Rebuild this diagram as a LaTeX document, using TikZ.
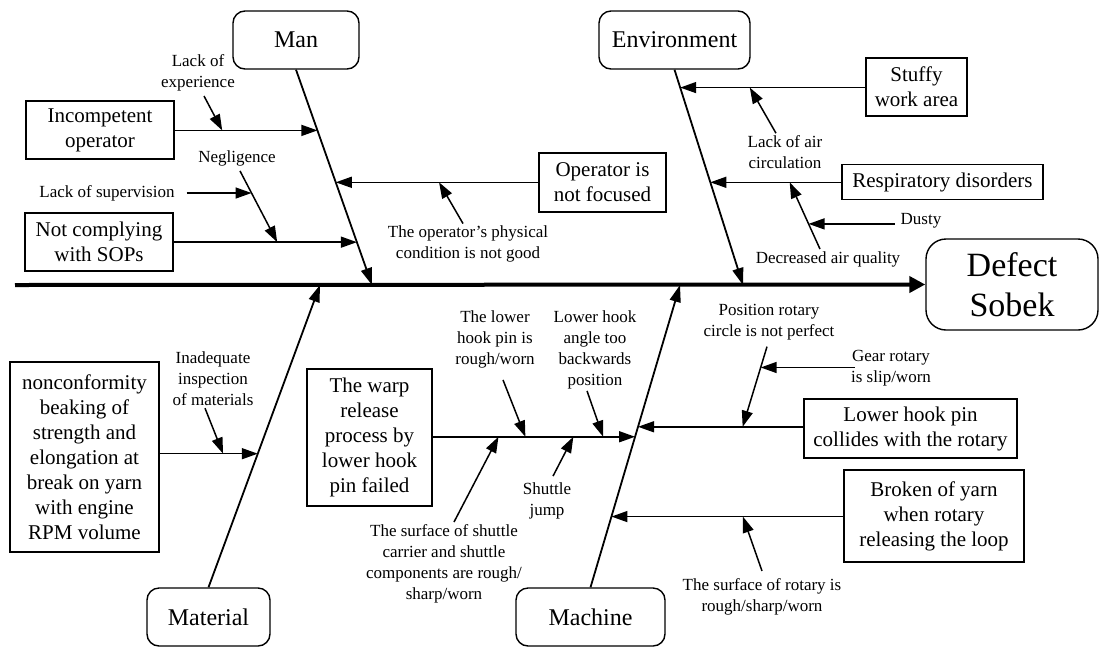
\documentclass[tikz,border=0pt]{standalone}
\usepackage{fontspec}
\setmainfont{Liberation Serif}
\usetikzlibrary{arrows.meta}

\begin{document}
\begin{tikzpicture}
  [x=1pt,y=-1pt,
   category/.style={draw,line width=1.4pt,rounded corners=12pt,minimum height=58pt,font=\fontsize{24}{28}\selectfont},
   factor/.style={draw,line width=1.4pt,align=center,inner sep=0pt,font=\fontsize{21}{25}\selectfont},
   note/.style={align=center,inner sep=2pt,font=\fontsize{17}{21}\selectfont},
   bone/.style={line width=1.8pt,-{Triangle[length=17pt,width=11pt]}},
   twig/.style={line width=1.5pt,-{Triangle[length=16pt,width=11pt]}}]
  \useasboundingbox (0,0) rectangle (1099,646);

  % head and spine
  \node[draw,line width=1.4pt,rounded corners=20pt,minimum width=172pt,minimum height=91pt,align=center,font=\fontsize{34}{40}\selectfont] (defect) at (1012,284.5) {Defect\\Sobek};
  \coordinate (tail) at (15,285);
  \draw[line width=4pt,-{Triangle[length=16pt,width=16pt]}] (tail) -- (defect.west);
  \coordinate (jman) at (372,285);
  \coordinate (jenv) at (743,285);
  \coordinate (jmat) at (320,285);
  \coordinate (jmac) at (680,285);

  % categories
  \node[category,minimum width=126pt] (man) at (296,40) {Man};
  \node[category,minimum width=151pt] (env) at (674.5,40) {Environment};
  \node[category,minimum width=123pt] (mat) at (208.5,617) {Material};
  \node[category,minimum width=149pt] (mac) at (590.5,617) {Machine};
  \draw[bone] (man.south) -- coordinate[pos=.282] (m1) coordinate[pos=.523] (m2) coordinate[pos=.801] (m3) (jman);
  \draw[bone] (env.south) -- coordinate[pos=.083] (e1) coordinate[pos=.523] (e2) (jenv);
  \draw[bone] (mat.north) -- coordinate[pos=.442] (t1) (jmat);
  \draw[bone] (mac.north) -- coordinate[pos=.234] (c3) coordinate[pos=.498] (c1) coordinate[pos=.531] (c2) (jmac);

  % man
  \node[factor,minimum width=148pt,minimum height=58pt] (incomp) at (100,130) {Incompetent\\operator};
  \node[factor,minimum width=148pt,minimum height=58pt] (sops) at (99,242) {Not complying\\with SOPs};
  \node[factor,minimum width=127pt,minimum height=59pt] (focus) at (602.5,182.5) {Operator is\\not focused};
  \draw[twig] (incomp.east |- m1) -- coordinate[pos=.333] (m1a) (m1);
  \draw[twig] (sops.east |- m3) -- coordinate[pos=.565] (m3a) (m3);
  \draw[twig] (focus.west |- m2) -- coordinate[pos=.49] (m2a) (m2);
  \node[note] (exper) at (198,72.5) {Lack of\\experience};
  \node[note] (neglig) at (237,158) {Negligence};
  \node[note] (superv) at (107,193) {Lack of supervision};
  \node[note] (physic) at (468,244) {The operator’s physical\\condition is not good};
  \draw[twig] ([xshift=6pt,yshift=-3pt]exper.south) -- (m1a);
  \draw[twig] ([xshift=3pt,yshift=-3pt]neglig.south) -- coordinate[pos=.31] (ng) (m3a);
  \draw[twig,shorten <=10pt] (superv.east |- ng) -- (ng);
  \draw[twig] ([xshift=-5pt]physic.north) -- (m2a);

  % environment
  \node[factor,minimum width=101pt,minimum height=58pt] (stuffy) at (916.5,87) {Stuffy\\work area};
  \node[factor,minimum width=201pt,minimum height=35pt] (resp) at (942.5,182) {Respiratory disorders};
  \draw[twig] (stuffy.west |- e1) -- coordinate[pos=.624] (e1a) (e1);
  \draw[twig] (resp.west |- e2) -- coordinate[pos=.394] (e2a) (e2);
  \node[note] (airc) at (785,152) {Lack of air\\circulation};
  \node[note] (airq) at (828,259) {Decreased air quality};
  \node[note] (dusty) at (921,221) {Dusty};
  \draw[twig] ([xshift=-9pt]airc.north) -- (e1a);
  \draw[twig] ([xshift=-8pt]airq.north) -- coordinate[pos=.377] (dq) (e2a);
  \draw[twig,shorten <=4pt] (dusty.west |- dq) -- (dq);

  % material
  \node[factor,minimum width=149pt,minimum height=190pt] (yarn) at (84.5,457) {nonconformity\\beaking of\\strength and\\elongation at\\break on yarn\\with engine\\RPM volume};
  \draw[twig] (yarn.east |- t1) -- coordinate[pos=.646] (t1a) (t1);
  \node[note] (inspec) at (213,379) {Inadequate\\inspection\\of materials};
  \draw[twig] ([xshift=-8pt]inspec.south) -- (t1a);

  % machine
  \node[factor,minimum width=125pt,minimum height=137pt] (warp) at (369.5,437.5) {The warp\\release\\process by\\lower hook\\pin failed};
  \node[factor,minimum width=213pt,minimum height=59pt] (collide) at (910.5,428.5) {Lower hook pin\\collides with the rotary};
  \node[factor,minimum width=180pt,minimum height=92pt] (broken) at (934,516) {Broken of yarn\\when rotary\\releasing the loop};
  \draw[twig] (warp.east |- c1) -- coordinate[pos=.325] (c1a) coordinate[pos=.458] (c1b) coordinate[pos=.695] (c1c) coordinate[pos=.842] (c1d) (c1);
  \draw[twig] (collide.west |- c2) -- coordinate[pos=.367] (c2a) (c2);
  \draw[twig] (broken.west |- c3) -- coordinate[pos=.433] (c3a) (c3);
  \node[note] (pinrough) at (495,339) {The lower\\hook pin is\\rough/worn};
  \node[note] (angle) at (595,349.5) {Lower hook\\angle too\\backwards\\position};
  \node[note] (shsurf) at (444,563.5) {The surface of shuttle\\carrier and shuttle\\components are rough/\\sharp/worn};
  \node[note] (jump) at (547,500.5) {Shuttle\\jump};
  \node[note] (circle) at (769,322.5) {Position rotary\\circle is not perfect};
  \node[note] (gear) at (891,368.5) {Gear rotary\\is slip/worn};
  \node[note] (rotsurf) at (762,596.5) {The surface of rotary is\\rough/sharp/worn};
  \draw[twig] ([xshift=8pt,yshift=-10pt]pinrough.south) -- (c1b);
  \draw[twig] ([xshift=-8pt]angle.south) -- (c1d);
  \draw[twig] ([xshift=10pt]shsurf.north) -- (c1a);
  \draw[twig] ([xshift=6pt,yshift=4pt]jump.north) -- (c1c);
  \draw[twig] ([xshift=-2pt,yshift=-4pt]circle.south) -- coordinate[pos=.26] (gr) (c2a);
  \draw[twig,shorten <=-6pt] (gear.west |- gr) -- (gr);
  \draw[twig] ([yshift=5pt]rotsurf.north) -- (c3a);
\end{tikzpicture}
\end{document}
